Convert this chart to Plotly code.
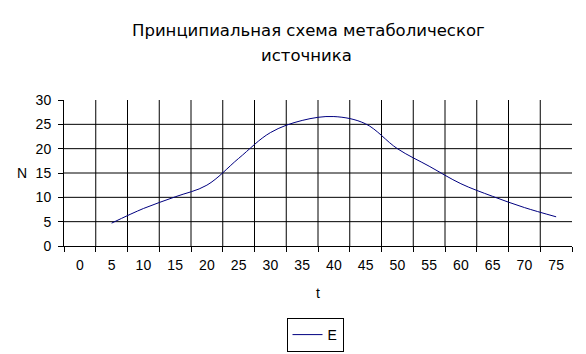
import plotly.graph_objects as go

categories = ["0", "5", "10", "15", "20", "25", "30", "35", "40", "45", "50", "55", "60", "65", "70", "75"]
t_values = ["5", "10", "15", "20", "25", "30", "35", "40", "45", "50", "55", "60", "65", "70", "75"]
n_values = [4.7, 7.7, 10.1, 12.5, 18.0, 23.3, 25.8, 26.6, 25.1, 20.0, 16.4, 12.8, 10.2, 7.9, 6.0]
y_ticks = [0, 5, 10, 15, 20, 25, 30]
title_line1 = "Принципиальная схема метаболическог"
title_line2 = "источника"
series_name = "E"

FONT = "Liberation Sans, Arial, sans-serif"
TFONT = "DejaVu Sans, Liberation Sans, sans-serif"
PL, PR, PT, PB = 64, 572, 100, 246
PW, PH = PR - PL, PB - PT

fig = go.Figure()
fig.add_trace(go.Scatter(
    x=t_values, y=n_values, mode="lines", name=series_name,
    line=dict(color="#000080", width=1, shape="spline", smoothing=1.0),
))

shapes = []
for v in y_ticks[1:-1]:
    shapes.append(dict(type="line", xref="paper", x0=0, x1=1, yref="y", y0=v, y1=v,
                       line=dict(color="black", width=1), layer="below"))
for i in range(len(categories) - 1):
    shapes.append(dict(type="line", xref="x", x0=i + 0.5, x1=i + 0.5, yref="y", y0=0, y1=30,
                       line=dict(color="black", width=1), layer="below"))

def px_x(px):
    return (px - PL) / PW

def px_y(py):
    return (PB - py) / PH

fig.update_layout(
    width=586, height=354,
    margin=dict(l=PL, r=586 - PR, t=PT, b=354 - PB),
    paper_bgcolor="white", plot_bgcolor="white",
    font=dict(family=FONT, size=14, color="black"),
    shapes=shapes,
    showlegend=True,
    legend=dict(x=px_x(315), yref="container", y=1 - 318 / 354, xanchor="center", yanchor="top",
                bordercolor="black", borderwidth=1,
                font=dict(family=FONT, size=14, color="black"), bgcolor="white"),
    annotations=[
        dict(text=title_line1, xref="paper", yref="paper", x=px_x(308), y=px_y(30.5),
             xanchor="center", yanchor="middle", showarrow=False, font=dict(family=TFONT, size=16.5)),
        dict(text=title_line2, xref="paper", yref="paper", x=px_x(306), y=px_y(55),
             xanchor="center", yanchor="middle", showarrow=False, font=dict(family=TFONT, size=16.5)),
        dict(text="N", xref="paper", yref="paper", x=px_x(21.5), y=0.5,
             xanchor="center", yanchor="middle", showarrow=False, font=dict(family=FONT, size=14)),
    ],
)
fig.update_xaxes(
    type="category", categoryorder="array", categoryarray=categories,
    range=[-0.5, len(categories) - 0.5], tickson="boundaries",
    ticks="outside", ticklen=5, tickcolor="black", tickwidth=1, tickangle=0,
    ticklabelstandoff=6,
    showgrid=False, showline=True, linecolor="black", linewidth=1, zeroline=False,
    title=dict(text="t", standoff=16, font=dict(family=FONT, size=14)),
    automargin=False, fixedrange=True,
)
fig.update_yaxes(
    range=[0, 30], tickvals=y_ticks, ticks="outside", ticklen=5, tickcolor="black", tickwidth=1,
    ticklabelstandoff=4,
    showgrid=False, showline=True, linecolor="black", linewidth=1, zeroline=False,
    automargin=False, fixedrange=True,
)

fig.write_html("out.html")
